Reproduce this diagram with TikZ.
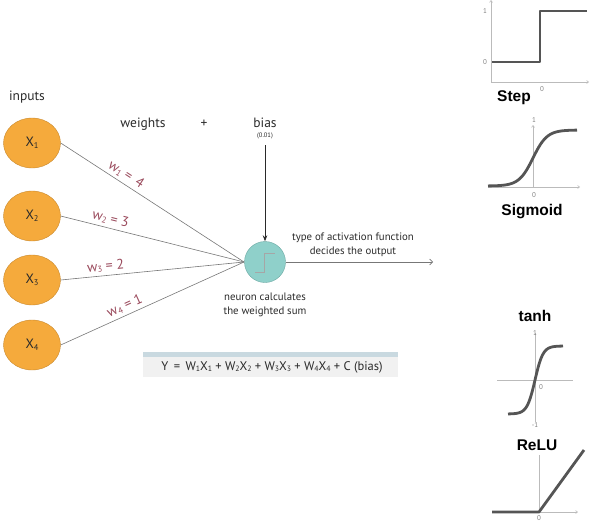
\documentclass[tikz,border=0pt]{standalone}
\usepackage{fontspec}
\setmainfont{PT Sans}
\newfontfamily\labfont{Liberation Sans}
\usetikzlibrary{shapes.geometric,arrows.meta}
\definecolor{inorange}{HTML}{F5AA3C}
\definecolor{inborder}{HTML}{C8892E}
\definecolor{neufill}{HTML}{8FD0CA}
\definecolor{neuborder}{HTML}{6AA8A2}
\definecolor{wcol}{HTML}{9A4A5C}
\definecolor{txt}{HTML}{2A2A2A}
\definecolor{edgecol}{HTML}{777777}
\definecolor{curvecol}{HTML}{555555}
\definecolor{axiscol}{HTML}{BBBBBB}
\definecolor{boxfill}{HTML}{F1F1F1}
\definecolor{boxtop}{HTML}{C9D9E0}
\newcommand{\sbs}[1]{\raisebox{-0.25ex}{\scalebox{0.62}{#1}}}
\tikzset{
  inp/.style={ellipse, draw=inborder, fill=inorange, minimum width=57pt, minimum height=50pt, inner sep=0pt, font=\fontsize{13.5}{15}\selectfont, text=txt},
  neu/.style={circle, draw=neuborder, fill=neufill, minimum size=41pt, inner sep=0pt},
  edge/.style={draw=edgecol, line width=0.6pt},
  wlab/.style={text=wcol, font=\fontsize{14}{15}\selectfont, sloped, above, inner sep=3pt},
  lab/.style={text=txt, font=\fontsize{13.5}{15}\selectfont, inner sep=0pt},
  small/.style={text=txt, font=\fontsize{10.8}{14}\selectfont, align=center, inner sep=0pt},
  plotlab/.style={text=black, font=\labfont\bfseries\fontsize{15.5}{18}\selectfont, inner sep=0pt},
  tick/.style={text=gray, font=\fontsize{7}{8}\selectfont, inner sep=0pt},
  axis/.style={draw=axiscol, line width=0.6pt, -{Straight Barb[length=2pt,width=3pt]}},
  curve/.style={draw=curvecol, line width=2.8pt, line join=round},
}
\begin{document}
\begin{tikzpicture}[x=1pt,y=-1pt]
\useasboundingbox (0,0) rectangle (591,522);
% inputs
\node[lab] (inputs) at (27,97) {inputs};
\node[lab] (weights) at (143,124) {weights};
\node[lab] (plus) at (204,124) {+};
\node[lab] (bias) at (265,123) {bias};
\node[text=txt, font=\fontsize{6.5}{8}\selectfont, inner sep=0pt] (biasval) at (265,136) {(0.01)};
\node[inp] (x1) at (32,143) {X\sbs{1}};
\node[inp] (x2) at (32,216) {X\sbs{2}};
\node[inp] (x3) at (32,280) {X\sbs{3}};
\node[inp] (x4) at (32,345) {X\sbs{4}};
% neuron
\node[neu] (n) at (265,262) {};
\draw[draw=gray!70, line width=0.8pt] (255,272) -- (264,272) -- (264,253) -- (275,253);
\coordinate (conv) at (244,262);
\draw[edge] (x1.east) -- node[wlab, pos=0.33] {w\sbs{1} =\, 4} (conv);
\draw[edge] (x2.east) -- node[wlab, pos=0.26] {w\sbs{2} = 3} (conv);
\draw[edge] (x3.east) -- node[wlab, pos=0.25] {w\sbs{3} = 2} (conv);
\draw[edge] (x4.east) -- node[wlab, pos=0.37] {w\sbs{4} = 1} (conv);
% bias arrow
\coordinate (btop) at (265,145);
\draw[draw=txt, line width=0.7pt, -{Stealth[length=6pt,width=4.5pt]}] (btop) -- (n.north);
% output
\coordinate (out) at (433,262);
\draw[edge, -{Straight Barb[length=3pt,width=6pt]}] (n.east) -- (out);
\node[small] (acttxt) at (353,245) {type of activation function\\decides the output};
\node[small] (neutxt) at (265,305) {neuron calculates\\the weighted sum};
% formula box
\fill[boxfill] (143,352) rectangle (398,377);
\fill[boxtop] (143,352) rectangle (398,357);
\node[text=txt, font=\fontsize{12.5}{15}\selectfont, inner sep=0pt] (formula) at (272,367)
  {Y\, =\, W\sbs{1}X\sbs{1} + W\sbs{2}X\sbs{2} + W\sbs{3}X\sbs{3} + W\sbs{4}X\sbs{4} + C (bias)};
% Step plot
\draw[axis] (491,82) -- (491,0);
\draw[axis] (491,82) -- (589,82);
\draw[curve] (492,62) -- (540,62) -- (540,11) -- (587,11);
\node[tick] at (485,11) {1};
\node[tick] at (485,62) {0};
\node[tick] at (542,89) {0};
\node[plotlab] (steplab) at (514,98) {Step};
% Sigmoid
\draw[axis] (533,187) -- (533,125);
\draw[axis] (488,187) -- (580,187);
\draw[curve] plot[domain=488:577, samples=80, smooth] (\x, {186-56/(1+exp(-(\x-533)/7))});
\node[tick] at (534,120) {1};
\node[tick] at (534,195) {0};
\node[plotlab] (siglab) at (532,212) {Sigmoid};
% tanh
\node[plotlab] (tanhlab) at (535,316) {tanh};
\draw[draw=axiscol, line width=0.6pt] (535,333) -- (535,422);
\draw[draw=axiscol, line width=0.6pt] (497,380) -- (573,380);
\draw[curve] plot[domain=508:563, samples=80, smooth] (\x, {380-34*tanh((\x-535)/8)});
\node[tick] at (535,333) {1};
\node[tick] at (541,387) {0};
\node[tick] at (535,425) {-1};
% ReLU
\node[plotlab] (relulab) at (537,445) {ReLU};
\draw[draw=axiscol, line width=0.6pt] (539,455) -- (539,512);
\draw[axis] (492,512) -- (578,512);
\draw[curve] (492,512) -- (539,512) -- (584,450);
\node[tick] at (539,518) {0};
\end{tikzpicture}
\end{document}
